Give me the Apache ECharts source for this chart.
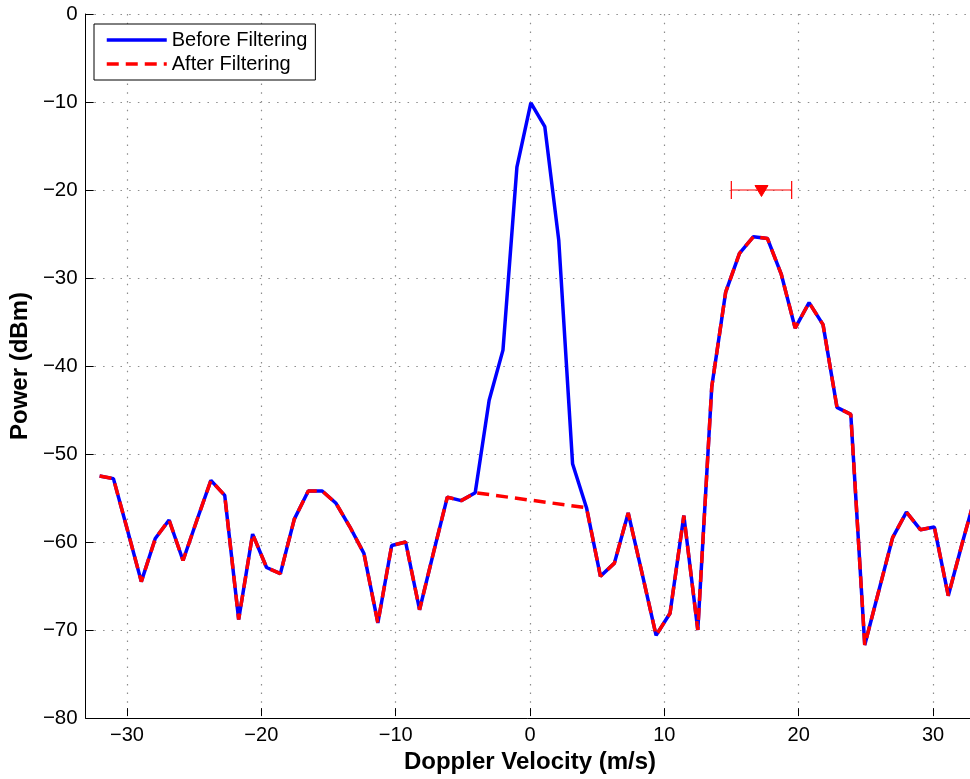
<!DOCTYPE html>
<html>
<head>
<meta charset="utf-8">
<script src="https://cdn.jsdelivr.net/npm/echarts@6/dist/echarts.min.js"></script>
<style>
html,body{margin:0;padding:0;background:#fff;}
#chart{width:970px;height:779px;}
</style>
</head>
<body>
<div id="chart"></div>
<script>
// Doppler velocity bins (m/s)
var velocity = [-32.16,-31.13,-30.09,-29.05,-28.01,-26.98,-25.94,-24.90,-23.86,-22.83,
  -21.79,-20.75,-19.71,-18.68,-17.64,-16.60,-15.56,-14.53,-13.49,-12.45,
  -11.41,-10.38,-9.34,-8.30,-7.26,-6.23,-5.19,-4.15,-3.11,-2.08,
  -1.04,0,1.04,2.08,3.11,4.15,5.19,6.23,7.26,8.30,
  9.34,10.38,11.41,12.45,13.49,14.53,15.56,16.60,17.64,18.68,
  19.71,20.75,21.79,22.83,23.86,24.90,25.94,26.98,28.01,29.05,
  30.09,31.13,32.16,33.20];

// Power before filtering (dBm)
var beforeFiltering = [-52.5,-52.8,-58.6,-64.5,-59.6,-57.5,-62.1,-57.5,-53.0,-54.7,
  -68.8,-59.1,-62.9,-63.6,-57.4,-54.2,-54.2,-55.6,-58.3,-61.3,
  -69.2,-60.4,-60.0,-67.7,-61.2,-54.9,-55.3,-54.4,-43.9,-38.2,
  -17.4,-10.1,-12.8,-25.7,-51.1,-56.1,-63.9,-62.4,-56.7,-63.6,
  -70.6,-68.1,-57.0,-70.0,-42.4,-31.6,-27.2,-25.3,-25.5,-29.6,
  -35.7,-32.8,-35.3,-44.7,-45.5,-71.7,-65.6,-59.5,-56.6,-58.6,
  -58.3,-66.1,-60.2,-54.5];

// Power after filtering (dBm); clutter bins removed (null)
var afterFiltering = [-52.5,-52.8,-58.6,-64.5,-59.6,-57.5,-62.1,-57.5,-53.0,-54.7,
  -68.8,-59.1,-62.9,-63.6,-57.4,-54.2,-54.2,-55.6,-58.3,-61.3,
  -69.2,-60.4,-60.0,-67.7,-61.2,-54.9,-55.3,-54.4,null,null,
  null,null,null,null,null,-56.1,-63.9,-62.4,-56.7,-63.6,
  -70.6,-68.1,-57.0,-70.0,-42.4,-31.6,-27.2,-25.3,-25.5,-29.6,
  -35.7,-32.8,-35.3,-44.7,-45.5,-71.7,-65.6,-59.5,-56.6,-58.6,
  -58.3,-66.1,-60.2,-54.5];

// Mean velocity estimate with spread
var estimateVelocity = [17.2];
var estimatePower = [-20];
var estimateSpread = [2.25];

var xTicks = [-30,-20,-10,0,10,20,30];
var yTicks = [-80,-70,-60,-50,-40,-30,-20,-10,0];

var FONT = '"Liberation Sans", Arial, Helvetica, sans-serif';
function minus(v){ return String(v).replace('-', '\u2212'); }

var beforeData = velocity.map(function(v,i){ return [v, beforeFiltering[i]]; });
var afterData = velocity.map(function(v,i){ return [v, afterFiltering[i]]; });
var estData = estimateVelocity.map(function(v,i){ return [v, estimatePower[i], estimateSpread[i]]; });

var gridLine = {show:true, lineStyle:{color:'#8c8c8c', width:1.2, type:[1.5,7.2]}};

var chart = echarts.init(document.getElementById('chart'), null, {renderer:'canvas'});
chart.setOption({
  animation:false,
  backgroundColor:'#fff',
  grid:[
    {left:84, top:14, right:0, bottom:61, containLabel:false},
    {left:127, top:14, right:37, bottom:61, containLabel:false}
  ],
  legend:{
    data:[
      {name:'Before Filtering', lineStyle:{width:3.5, color:'#0000ff', type:'solid'}},
      {name:'After Filtering', lineStyle:{width:3.5, color:'#ff0000', type:[12,7]}}
    ],
    orient:'vertical',
    left:94, top:24,
    padding:[6,8,6,11],
    itemWidth:60, itemHeight:20, itemGap:4,
    itemStyle:{opacity:0},
    borderColor:'#000', borderWidth:1, backgroundColor:'#fff',
    textStyle:{fontFamily:FONT, fontSize:20, color:'#000'}
  },
  xAxis:[
    {type:'value', gridIndex:0, min:-33.2, max:32.75,
     axisLine:{show:true, onZero:false, lineStyle:{color:'#000', width:1}},
     axisTick:{show:false}, axisLabel:{show:false}, splitLine:{show:false}},
    {type:'value', gridIndex:1, min:xTicks[0], max:xTicks[xTicks.length-1], interval:10,
     axisLine:{show:false, onZero:false},
     axisTick:{show:true, inside:true, length:8, lineStyle:{color:'#000'}},
     axisLabel:{show:true, margin:9, color:'#000', fontFamily:FONT, fontSize:20, formatter:minus},
     splitLine:gridLine,
     name:'Doppler Velocity (m/s)', nameLocation:'middle', nameGap:30,
     nameTextStyle:{fontFamily:FONT, fontSize:24, fontWeight:'bold', color:'#000'}}
  ],
  yAxis:[
    {type:'value', gridIndex:0, min:yTicks[0], max:yTicks[yTicks.length-1], interval:10,
     axisLine:{show:true, onZero:false, lineStyle:{color:'#000', width:1}},
     axisTick:{show:true, inside:true, length:8, lineStyle:{color:'#000'}},
     axisLabel:{show:true, margin:8, color:'#000', fontFamily:FONT, fontSize:20.5, formatter:minus},
     splitLine:gridLine,
     name:'Power (dBm)', nameLocation:'middle', nameGap:47, nameRotate:90,
     nameTextStyle:{fontFamily:FONT, fontSize:24, fontWeight:'bold', color:'#000'}},
    {type:'value', gridIndex:1, min:-80, max:0, show:false}
  ],
  series:[
    {name:'Before Filtering', type:'line', xAxisIndex:0, yAxisIndex:0, data:beforeData,
     symbol:'none', lineStyle:{color:'#0000ff', width:3.5}, itemStyle:{color:'#0000ff'}, z:2},
    {name:'After Filtering', type:'line', xAxisIndex:0, yAxisIndex:0, data:afterData,
     connectNulls:true, symbol:'none', lineStyle:{color:'#ff0000', width:3.5, type:[12,7]}, itemStyle:{color:'#ff0000'}, z:3},
    {name:'Estimate', type:'custom', xAxisIndex:0, yAxisIndex:0, data:estData, z:4,
     renderItem:function(params, api){
       var c = api.coord([api.value(0), api.value(1)]);
       var l = api.coord([api.value(0)-api.value(2), api.value(1)]);
       var r = api.coord([api.value(0)+api.value(2), api.value(1)]);
       var st = {stroke:'#ff0000', lineWidth:1.2};
       return {type:'group', children:[
         {type:'line', shape:{x1:l[0], y1:l[1], x2:r[0], y2:r[1]}, style:st},
         {type:'line', shape:{x1:l[0], y1:l[1]-9, x2:l[0], y2:l[1]+9}, style:st},
         {type:'line', shape:{x1:r[0], y1:r[1]-9, x2:r[0], y2:r[1]+9}, style:st},
         {type:'polygon', shape:{points:[[c[0]-6.5,c[1]-4.5],[c[0]+6.5,c[1]-4.5],[c[0],c[1]+6.5]]},
          style:{fill:'#ff0000', stroke:'#ff0000', lineWidth:1}}
       ]};
     }}
  ]
});
</script>
</body>
</html>
